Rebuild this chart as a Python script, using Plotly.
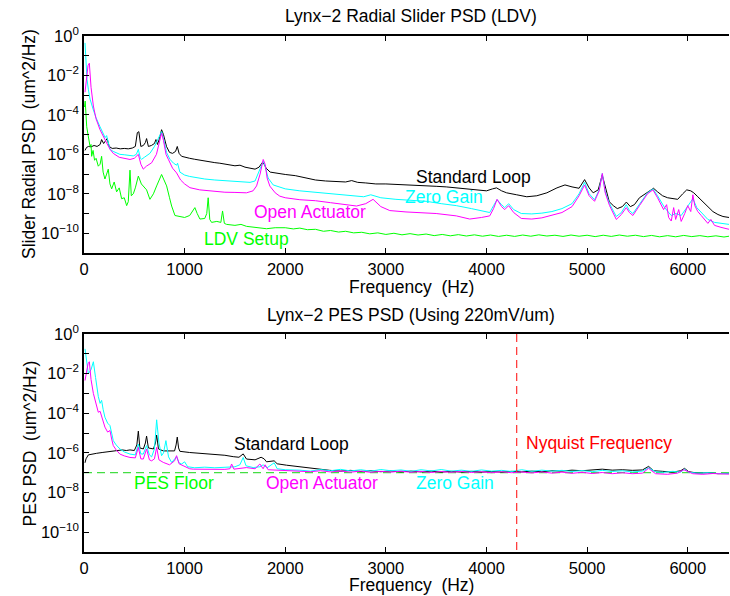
import plotly.graph_objects as go

# ---------------- data (PSD values read as log10 exponents) ----------------
# Top: Lynx-2 Radial Slider PSD (LDV)
top_std_f = [10, 25, 45, 70, 100, 130, 160, 175, 195, 215, 230, 250, 280, 320, 360, 400, 440, 480, 510, 530,
             545, 565, 590, 610, 622, 640, 670, 700, 715, 730, 750, 771, 790, 820, 850, 880, 910, 927, 945, 970,
             1000, 1050, 1100, 1150, 1200, 1250, 1300, 1350, 1400, 1450, 1500, 1550, 1600, 1650, 1700, 1740,
             1774, 1790, 1810, 1850, 1900, 1950, 2000, 2100, 2200, 2300, 2400, 2500, 2600, 2660, 2720, 2800,
             2900, 3000, 3100, 3200, 3300, 3400, 3500, 3600, 3700, 3800, 3900, 4000, 4060, 4100, 4150, 4200,
             4300, 4400, 4500, 4600, 4700, 4780, 4850, 4920, 4975, 5020, 5060, 5110, 5150, 5185, 5220, 5260,
             5300, 5350, 5390, 5430, 5470, 5520, 5580, 5630, 5660, 5700, 5750, 5800, 5850, 5900, 5950, 5990,
             6030, 6060, 6100, 6150, 6200, 6250, 6300, 6350, 6410]
top_std_exp = [-5.8, -5.65, -5.6, -5.62, -5.55, -5.6, -5.5, -5.25, -5.45, -5.3, -5.2, -5.6, -5.7, -5.68, -5.72,
               -5.7, -5.72, -5.68, -5.6, -4.9, -4.85, -5.6, -5.55, -5.4, -5.2, -5.6, -5.55, -5.45, -5.25, -5.5,
               -5.2, -4.75, -5.0, -5.6, -5.9, -5.95, -5.85, -5.6, -5.95, -6.1, -6.15, -6.2, -6.25, -6.3, -6.35,
               -6.38, -6.42, -6.45, -6.5, -6.55, -6.58, -6.55, -6.65, -6.7, -6.75, -6.65, -6.4, -6.5, -6.7, -6.9,
               -6.95, -7.0, -7.02, -7.08, -7.18, -7.3, -7.35, -7.38, -7.4, -7.33, -7.42, -7.45, -7.5, -7.5,
               -7.52, -7.53, -7.58, -7.6, -7.62, -7.65, -7.7, -7.75, -7.8, -7.85, -7.75, -7.7, -7.85, -7.95,
               -8.05, -8.15, -8.1, -7.95, -7.7, -7.55, -7.65, -7.72, -7.28, -7.7, -7.95, -7.8, -7.05, -7.8,
               -8.4, -8.6, -8.75, -8.65, -8.42, -8.65, -8.55, -8.2, -8.0, -7.8, -7.72, -7.9, -8.1, -8.2, -8.25,
               -8.28, -8.0, -7.8, -7.85, -7.95, -8.15, -8.4, -8.7, -8.9, -9.05, -9.15, -9.2]

top_zero_f = [10, 20, 30, 43, 60, 93, 120, 159, 190, 210, 225, 240, 258, 290, 330, 357, 400, 450, 490, 520,
              540, 560, 573, 600, 630, 655, 700, 740, 771, 790, 820, 854, 890, 920, 930, 953, 1000, 1050, 1119,
              1200, 1300, 1400, 1450, 1550, 1650, 1700, 1748, 1781, 1800, 1830, 1880, 1946, 2000, 2145, 2300,
              2450, 2600, 2780, 2850, 2950, 3100, 3250, 3400, 3550, 3700, 3850, 3950, 4032, 4070, 4105, 4150,
              4181, 4220, 4270, 4346, 4450, 4550, 4650, 4750, 4850, 4920, 4975, 5020, 5074, 5120, 5151, 5180,
              5223, 5290, 5340, 5389, 5420, 5455, 5520, 5600, 5654, 5700, 5770, 5836, 5880, 5935, 5990, 6051,
              6090, 6134, 6200, 6266, 6330, 6410]
top_zero_exp = [-0.35, -1.6, -2.2, -2.7, -3.2, -3.75, -4.15, -4.6, -4.95, -5.15, -5.05, -5.4, -5.75, -5.85,
                -5.95, -6.0, -6.02, -6.05, -6.08, -6.0, -5.75, -6.2, -6.25, -6.15, -6.05, -5.95, -5.6, -5.2,
                -4.85, -5.2, -5.9, -6.25, -6.45, -6.55, -6.45, -6.9, -7.05, -7.12, -7.18, -7.25, -7.3, -7.33,
                -7.36, -7.4, -7.42, -7.35, -6.8, -6.35, -6.6, -7.2, -7.55, -7.68, -7.75, -7.85, -7.92, -7.98,
                -8.05, -8.15, -8.05, -8.2, -8.28, -8.33, -8.38, -8.5, -8.6, -8.75, -8.85, -8.95, -8.6, -8.3,
                -8.55, -8.7, -8.5, -8.8, -9.0, -9.02, -8.98, -8.9, -8.75, -8.5, -8.0, -7.42, -8.0, -8.3, -7.8,
                -6.97, -7.9, -8.5, -9.15, -8.95, -8.55, -8.85, -9.0, -8.5, -7.95, -7.75, -8.1, -8.7, -9.1, -9.0,
                -9.1, -8.7, -8.25, -8.7, -8.95, -9.3, -9.45, -9.5, -9.55]

top_open_f = [10, 25, 40, 53, 70, 93, 120, 159, 190, 225, 260, 291, 350, 400, 457, 500, 540, 565, 589, 620,
              672, 720, 750, 771, 790, 815, 838, 880, 920, 960, 1000, 1053, 1150, 1285, 1400, 1500, 1615, 1680,
              1715, 1750, 1781, 1800, 1820, 1847, 1900, 1946, 2000, 2145, 2300, 2450, 2600, 2708, 2800, 2873,
              2950, 3039, 3200, 3370, 3500, 3700, 3833, 3950, 4032, 4070, 4105, 4150, 4181, 4220, 4270, 4346,
              4450, 4550, 4650, 4750, 4850, 4920, 4975, 5020, 5074, 5120, 5151, 5180, 5223, 5290, 5340, 5389,
              5420, 5455, 5520, 5600, 5654, 5700, 5760, 5790, 5810, 5836, 5860, 5880, 5910, 5935, 5970, 6000,
              6030, 6051, 6070, 6100, 6134, 6170, 6200, 6230, 6266, 6330, 6410]
top_open_exp = [-2.85, -2.2, -1.5, -1.38, -2.6, -3.55, -4.2, -4.75, -5.1, -5.42, -5.75, -5.95, -6.15, -6.2,
                -6.26, -6.2, -6.0, -6.5, -6.75, -6.6, -6.43, -6.0, -5.4, -4.92, -5.3, -6.0, -6.25, -6.7, -6.94,
                -7.3, -7.5, -7.69, -7.8, -7.88, -7.92, -7.93, -7.95, -7.85, -7.6, -7.0, -6.26, -6.5, -7.2, -7.61,
                -7.95, -8.12, -8.2, -8.3, -8.35, -8.45, -8.55, -8.62, -8.5, -8.28, -8.65, -8.85, -8.92, -8.96,
                -9.0, -9.12, -9.28, -9.2, -9.12, -8.75, -8.28, -8.65, -8.8, -8.6, -8.95, -9.25, -9.28, -9.22,
                -9.1, -8.95, -8.65, -8.1, -7.55, -8.1, -8.38, -7.85, -6.97, -7.95, -8.6, -9.3, -9.05, -8.7,
                -8.95, -9.1, -8.6, -8.0, -7.8, -8.2, -8.8, -8.55, -9.2, -9.38, -8.7, -9.3, -8.8, -9.4, -9.0,
                -8.6, -8.9, -8.05, -8.6, -8.9, -9.1, -9.3, -9.5, -9.3, -9.6, -9.7, -9.8]

top_ldv_f = [5, 12, 20, 27, 40, 50, 60, 70, 76, 90, 105, 120, 142, 160, 175, 190, 208, 225, 241, 258, 275,
             300, 324, 350, 374, 400, 424, 440, 457, 470, 490, 510, 540, 570, 600, 622, 655, 690, 722, 750, 771,
             795, 821, 850, 871, 904, 950, 1000, 1050, 1080, 1102, 1125, 1152, 1200, 1220, 1234, 1250, 1268,
             1320, 1360, 1377, 1395, 1417, 1500, 1560, 1615, 1700, 1814, 1900,
             2000, 2080, 2145, 2220, 2300, 2380, 2450, 2530, 2600, 2680, 2760, 2840, 2920, 3000, 3080, 3160,
             3240, 3320, 3400, 3480, 3560, 3640, 3720, 3800, 3880, 3960, 4040, 4120, 4200, 4280, 4360, 4440,
             4520, 4600, 4680, 4760, 4840, 4920, 5000, 5080, 5160, 5240, 5320, 5400, 5480, 5560, 5640, 5720,
             5800, 5880, 5960, 6040, 6120, 6200, 6280, 6360, 6410]
top_ldv_exp = [-3.6, -3.3, -4.0, -4.6, -5.0, -5.4, -5.6, -5.5, -6.1, -5.8, -6.3, -6.2, -6.6, -6.5, -6.1, -6.9,
               -7.25, -7.0, -6.75, -7.5, -7.75, -7.4, -7.9, -7.7, -8.25, -8.2, -8.6, -8.4, -6.8, -8.1, -8.0,
               -7.7, -7.1, -7.5, -7.7, -7.8, -8.28, -8.0, -7.6, -7.3, -7.02, -7.3, -7.6, -8.2, -8.62, -9.1,
               -9.15, -9.2, -9.1, -8.9, -8.7, -9.0, -9.28, -9.25, -9.0, -8.2, -9.3, -9.45, -9.4, -9.45, -8.87,
               -9.5, -9.55, -9.6, -9.55, -9.65, -9.7, -9.77, -9.72,
               -9.72, -9.78, -9.74, -9.82, -9.8, -9.9, -9.86, -9.94, -9.9, -9.98, -9.95, -10.03, -9.98, -10.06,
               -10.0, -10.08, -10.02, -10.09, -10.04, -10.12, -10.06, -10.13, -10.07, -10.14, -10.08, -10.15,
               -10.09, -10.16, -10.1, -10.16, -10.09, -10.15, -10.08, -10.14, -10.1, -10.16, -10.09, -10.15,
               -10.1, -10.17, -10.1, -10.16, -10.09, -10.15, -10.1, -10.17, -10.11, -10.18, -10.12, -10.18,
               -10.11, -10.17, -10.12, -10.18, -10.13, -10.19, -10.15]

# Bottom: Lynx-2 PES PSD (Using 220mV/um)
pes_std_f = [10, 20, 43, 80, 126, 180, 230, 291, 330, 380, 420, 457, 500, 525, 540, 555, 590, 610, 622, 640,
             690, 710, 722, 740, 788, 850, 900, 915, 927, 940, 953, 1050, 1150, 1285, 1400, 1483, 1540, 1582,
             1615, 1700, 1760, 1790, 1814, 1890, 1920, 2013,
             2145, 2244, 2340, 2443, 2550, 2650, 2750, 2850, 2950, 3050, 3150, 3250, 3350, 3450, 3550, 3650,
             3750, 3850, 3950, 4050, 4150, 4250, 4350, 4450, 4550, 4650, 4750, 4850, 4950, 5050, 5150, 5250,
             5350, 5450, 5550, 5611, 5660, 5750, 5850, 5930, 5968, 6010, 6100, 6200, 6300, 6410]
pes_std_exp = [-6.5, -6.3, -6.1, -6.05, -6.02, -5.98, -5.95, -5.92, -5.9, -5.85, -5.88, -5.85, -5.88, -5.6,
               -4.9, -5.75, -5.8, -5.5, -5.15, -5.75, -5.8, -5.5, -5.1, -5.8, -5.9, -5.92, -5.9, -5.6, -5.2,
               -5.75, -5.92, -5.98, -6.02, -6.06, -6.12, -6.19, -6.22, -6.05, -6.31, -6.35, -6.22, -6.3, -6.45,
               -6.4, -6.55, -6.62,
               -6.7, -6.75, -6.84, -6.88, -6.92, -6.88, -6.94, -6.9, -6.95, -6.91, -6.96, -6.92, -6.96, -6.92,
               -6.97, -6.93, -6.97, -6.93, -6.97, -6.94, -6.97, -6.93, -6.96, -6.92, -6.95, -6.9, -6.92, -6.87,
               -6.9, -6.86, -6.82, -6.87, -6.85, -6.88, -6.86, -6.68, -6.9, -6.93, -6.97, -6.9, -6.78, -6.95,
               -7.02, -7.0, -7.05, -7.04]

pes_zero_f = [10, 25, 43, 70, 93, 115, 142, 160, 175, 190, 208, 235, 258, 275, 291, 320, 357, 400, 457, 510,
              540, 565, 589, 622, 650, 672, 700, 722, 745, 771, 790, 814, 840, 871, 900, 920, 945, 970, 1000,
              1030, 1100, 1200, 1300, 1400, 1500, 1549, 1582, 1610, 1681, 1750, 1780, 1820, 1890, 1920, 2000,
              2145, 2250, 2350, 2450, 2550, 2650, 2750, 2850, 2950, 3050, 3150, 3250, 3350, 3450, 3550, 3650,
              3750, 3850, 3950, 4050, 4150, 4250, 4350, 4450, 4550, 4650, 4750, 4850, 4950, 5050, 5150, 5250,
              5350, 5450, 5550, 5611, 5680, 5760, 5850, 5930, 5968, 6010, 6100, 6200, 6300, 6410]
pes_zero_exp = [-0.75, -1.3, -2.0, -1.8, -1.4, -2.2, -3.15, -3.5, -3.35, -3.8, -4.2, -4.5, -4.62, -5.0, -5.38,
                -5.6, -5.8, -5.95, -6.06, -6.1, -5.55, -6.05, -6.06, -5.63, -6.1, -6.2, -5.8, -4.33, -5.5,
                -6.14, -6.0, -5.38, -6.2, -6.48, -6.3, -6.2, -6.5, -6.56, -6.45, -6.7, -6.75, -6.72, -6.75,
                -6.72, -6.7, -6.6, -6.23, -6.65, -6.74, -6.7, -6.6, -6.75, -6.5, -6.8, -6.85,
                -6.87, -6.92, -6.84, -6.9, -6.83, -6.91, -6.85, -6.92, -6.84, -6.9, -6.86, -6.93, -6.85, -6.91,
                -6.84, -6.92, -6.87, -6.93, -6.86, -6.92, -6.88, -6.94, -6.85, -6.93, -6.87, -6.92, -6.88, -6.94,
                -6.89, -6.95, -6.88, -6.94, -6.9, -6.96, -6.92, -6.75, -6.95, -6.98, -6.93, -6.97, -6.82, -6.98,
                -7.02, -7.0, -7.04, -7.03]

pes_open_f = [10, 25, 40, 53, 70, 93, 120, 142, 160, 180, 208, 235, 258, 275, 291, 320, 357, 400, 457, 510,
              540, 565, 589, 622, 650, 672, 700, 722, 745, 788, 850, 900, 920, 945, 987, 1050, 1086, 1200, 1300,
              1400, 1450, 1467, 1490, 1615, 1700, 1748, 1780, 1800, 1830, 1946,
              2145, 2250, 2350, 2450, 2550, 2650, 2750, 2850, 2950, 3050, 3150, 3250, 3350, 3450, 3550, 3650,
              3750, 3850, 3950, 4050, 4150, 4250, 4350, 4450, 4550, 4650, 4750, 4850, 4950, 5050, 5150, 5250,
              5350, 5450, 5550, 5611, 5680, 5800, 5900, 5960, 6050, 6150, 6250, 6410]
pes_open_exp = [-2.35, -1.9, -1.5, -1.4, -2.3, -3.0, -3.6, -3.95, -3.9, -4.2, -4.7, -4.95, -4.87, -5.3, -5.63,
                -5.85, -6.06, -6.15, -6.23, -6.25, -5.72, -6.3, -6.31, -5.8, -6.35, -6.4, -6.3, -5.72, -6.35,
                -6.48, -6.6, -6.4, -6.14, -6.55, -6.65, -6.8, -6.82, -6.83, -6.85, -6.83, -6.8, -6.56, -6.82,
                -6.74, -6.8, -6.56, -6.8, -6.6, -6.85, -6.87,
                -6.91, -6.95, -6.9, -6.96, -6.91, -6.97, -6.92, -6.98, -6.93, -6.97, -6.92, -6.98, -6.93, -6.99,
                -6.94, -6.98, -6.93, -6.99, -6.95, -7.0, -6.95, -7.0, -6.96, -7.01, -6.96, -7.02, -6.97, -7.03,
                -6.98, -7.04, -6.99, -7.05, -7.0, -7.05, -7.02, -6.78, -7.05, -7.08, -7.02, -6.85, -7.05, -7.08,
                -7.04, -7.07]

pes_floor_f = [0, 6410]
pes_floor_val = [1e-7, 1e-7]
nyquist_f = 4300

x_ticks = [0, 1000, 2000, 3000, 4000, 5000, 6000]
y_major_exp = [0, -2, -4, -6, -8, -10]
y_minor_exp = [-1, -3, -5, -7, -9]


def vals(exps):
    return [10 ** e for e in exps]


FONT = "Liberation Sans, Arial, Helvetica, sans-serif"
BLACK, CYAN, MAGENTA, GREEN, RED = "#000000", "#00FFFF", "#FF00FF", "#00FF00", "#FF0000"

fig = go.Figure()

# top plot
fig.add_trace(go.Scatter(x=top_std_f, y=vals(top_std_exp), mode="lines", line=dict(color=BLACK, width=1),
                         xaxis="x", yaxis="y", name="Standard Loop"))
fig.add_trace(go.Scatter(x=top_zero_f, y=vals(top_zero_exp), mode="lines", line=dict(color=CYAN, width=1),
                         xaxis="x", yaxis="y", name="Zero Gain"))
fig.add_trace(go.Scatter(x=top_open_f, y=vals(top_open_exp), mode="lines", line=dict(color=MAGENTA, width=1),
                         xaxis="x", yaxis="y", name="Open Actuator"))
fig.add_trace(go.Scatter(x=top_ldv_f, y=vals(top_ldv_exp), mode="lines", line=dict(color=GREEN, width=1),
                         xaxis="x", yaxis="y", name="LDV Setup"))

# bottom plot
fig.add_trace(go.Scatter(x=pes_floor_f, y=pes_floor_val, mode="lines",
                         line=dict(color="#44DD44", width=1.2, dash="8px,5px"),
                         xaxis="x2", yaxis="y2", name="PES Floor"))
fig.add_trace(go.Scatter(x=pes_std_f, y=vals(pes_std_exp), mode="lines", line=dict(color=BLACK, width=1),
                         xaxis="x2", yaxis="y2", name="Standard Loop"))
fig.add_trace(go.Scatter(x=pes_zero_f, y=vals(pes_zero_exp), mode="lines", line=dict(color=CYAN, width=1),
                         xaxis="x2", yaxis="y2", name="Zero Gain"))
fig.add_trace(go.Scatter(x=pes_open_f, y=vals(pes_open_exp), mode="lines", line=dict(color=MAGENTA, width=1),
                         xaxis="x2", yaxis="y2", name="Open Actuator"))
fig.add_trace(go.Scatter(x=[nyquist_f, nyquist_f], y=[1, 1e-11], mode="lines",
                         line=dict(color="#FF3030", width=1.2, dash="8px,5px"),
                         xaxis="x2", yaxis="y2", name="Nyquist"))

tickvals = [10 ** e for e in y_major_exp]
ticktext = ["10<sup>%s</sup>" % str(e).replace("-", "\u2212") for e in y_major_exp]
minorvals = [10 ** e for e in y_minor_exp]

xcommon = dict(range=[0, 6410], tickvals=x_ticks, ticks="inside", ticklen=5, tickwidth=1, tickcolor="black",
               showline=True, linecolor="black", linewidth=1.6, mirror="ticks", showgrid=False, zeroline=False,
               tickfont=dict(family=FONT, size=16.5, color="black"))
ycommon = dict(type="log", range=[-11, 0], tickvals=tickvals, ticktext=ticktext, ticks="inside", ticklen=5,
               tickwidth=1, tickcolor="black", showline=True, linecolor="black", linewidth=1.6, mirror=False,
               showgrid=False, zeroline=False, tickfont=dict(family=FONT, size=16.5, color="black"),
               minor=dict(tickvals=minorvals, ticks="inside", ticklen=5, tickwidth=1, tickcolor="black",
                          showgrid=False))

fig.update_layout(
    width=730, height=596,
    margin=dict(l=84, r=1, t=36, b=44),
    paper_bgcolor="white", plot_bgcolor="white",
    showlegend=False,
    hovermode=False,
    xaxis=dict(domain=[0, 1], anchor="y", **xcommon),
    yaxis=dict(domain=[0.5795, 1], anchor="x", **ycommon),
    xaxis2=dict(domain=[0, 1], anchor="y2", **xcommon),
    yaxis2=dict(domain=[0, 0.4225], anchor="x2", **ycommon),
)

ann = []


def txt(text, x, y, xref, yref, color="black", size=17.5, angle=0):
    ann.append(dict(text=text, x=x, y=y, xref=xref, yref=yref, showarrow=False, textangle=angle,
                    font=dict(family=FONT, size=size, color=color), xanchor="center", yanchor="middle"))


def px(xp):
    return (xp - 84) / 645.0


def py(yp):
    return (552 - yp) / 516.0


txt("Lynx\u22122 Radial Slider PSD (LDV)", px(411), py(16), "paper", "paper")
txt("Lynx\u22122 PES PSD (Using 220mV/um)", px(411), py(315), "paper", "paper")
txt("Frequency  (Hz)", px(411), py(287), "paper", "paper")
txt("Frequency  (Hz)", px(411), py(585), "paper", "paper")
txt("Slider Radial PSD  (um^2/Hz)", px(29), py(144), "paper", "paper", angle=-90)
txt("PES PSD  (um^2/Hz)", px(29.5), py(443), "paper", "paper", angle=-90)

# curve labels
txt("Standard Loop", 3867, -7.17, "x", "y", BLACK)
txt("Zero Gain", 3580, -8.18, "x", "y", CYAN)
txt("Open Actuator", 2250, -8.94, "x", "y", MAGENTA)
txt("LDV Setup", 1615, -10.3, "x", "y", GREEN)

txt("Standard Loop", 2063, -5.53, "x2", "y2", BLACK)
txt("PES Floor", 893, -7.51, "x2", "y2", GREEN)
txt("Open Actuator", 2363, -7.51, "x2", "y2", MAGENTA)
txt("Zero Gain", 3690, -7.51, "x2", "y2", CYAN)
txt("Nyquist Frequency", 5119, -5.48, "x2", "y2", RED)

fig.update_layout(annotations=ann)
fig.write_html("out.html", config={"displayModeBar": False},
               post_script="document.body.style.margin='0';")
